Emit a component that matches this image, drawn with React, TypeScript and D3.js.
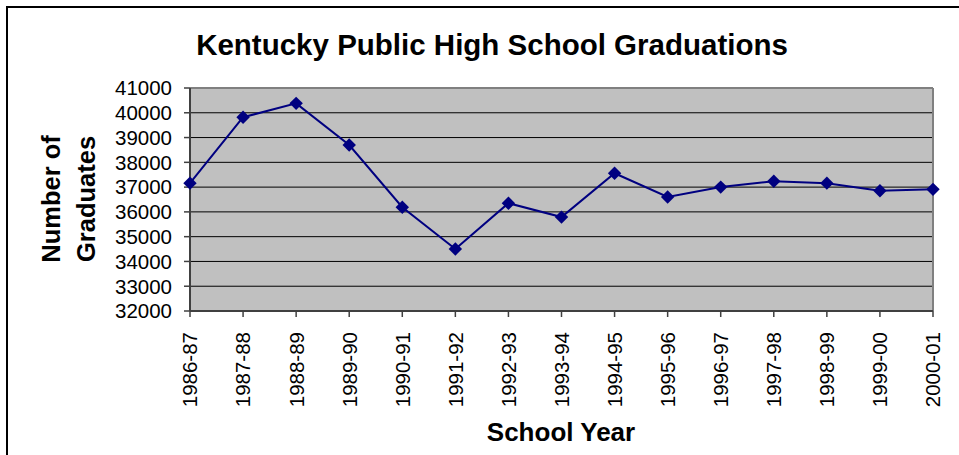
import React from "react";
import * as d3 from "d3";

const categories = ["1986-87","1987-88","1988-89","1989-90","1990-91","1991-92","1992-93","1993-94","1994-95","1995-96","1996-97","1997-98","1998-99","1999-00","2000-01"];
const graduates = [37160, 39820, 40380, 38700, 36190, 34500, 36350, 35790, 37560, 36600, 37000, 37240, 37160, 36850, 36910];
const yTicks = [32000, 33000, 34000, 35000, 36000, 37000, 38000, 39000, 40000, 41000];
const title = "Kentucky Public High School Graduations";
const xTitle = "School Year";
const yTitleLines = ["Number of", "Graduates"];

const W = 959, H = 455;
const PL = 190, PR = 933, PT = 88, PB = 311;
const FONT = "Liberation Sans, Arial, sans-serif";

export default function App() {
  const x = d3.scalePoint<string>().domain(categories).range([PL, PR]);
  const y = d3.scaleLinear().domain([32000, 41000]).range([PB, PT]);
  const line = d3.line<number>().x((_, i) => x(categories[i])!).y((d) => y(d));
  const diamond = d3.symbol().type(d3.symbolDiamond2).size(115)();

  return (
    <svg width={W} height={H} style={{ position: "absolute", left: 0, top: 0, background: "#fff" }} fontFamily={FONT}>
      <rect x={7} y={7} width={W} height={H} fill="#fff" stroke="#000" strokeWidth={2} />
      <text x={492} y={55} textAnchor="middle" fontSize={29.5} fontWeight="bold" fill="#000">{title}</text>
      <rect x={PL} y={PT} width={PR - PL} height={PB - PT} fill="#c0c0c0" />
      {yTicks.map((t) => (
        <line key={"g" + t} x1={PL} x2={PR} y1={y(t)} y2={y(t)} stroke="#000" strokeWidth={1} />
      ))}
      <line x1={PL} x2={PR} y1={PT} y2={PT} stroke="#808080" strokeWidth={2} />
      <line x1={PR} x2={PR} y1={PT} y2={PB} stroke="#808080" strokeWidth={2} />
      <line x1={PL} x2={PL} y1={PT} y2={PB} stroke="#404040" strokeWidth={2} />
      <line x1={PL} x2={PR} y1={PB} y2={PB} stroke="#404040" strokeWidth={2} />
      {yTicks.map((t) => (
        <g key={"y" + t}>
          <line x1={PL - 6} x2={PL} y1={y(t)} y2={y(t)} stroke="#404040" strokeWidth={1.5} />
          <text x={172} y={y(t)} dy="0.36em" textAnchor="end" fontSize={20.5} fill="#000">{t}</text>
        </g>
      ))}
      {categories.map((c) => (
        <g key={c}>
          <line x1={x(c)} x2={x(c)} y1={PB} y2={PB + 6} stroke="#404040" strokeWidth={1.5} />
          <text transform={`translate(${x(c)},${332}) rotate(-90)`} dy="0.36em" textAnchor="end" fontSize={20.5} fill="#000">{c}</text>
        </g>
      ))}
      <path d={line(graduates) || ""} fill="none" stroke="#000080" strokeWidth={2} />
      {graduates.map((v, i) => (
        <path key={i} d={diamond || ""} transform={`translate(${x(categories[i])},${y(v)})`} fill="#000080" />
      ))}
      <text x={561} y={441} textAnchor="middle" fontSize={26} fontWeight="bold" fill="#000">{xTitle}</text>
      {yTitleLines.map((l, i) => (
        <text key={l} transform={`translate(${51 + i * 35},${199}) rotate(-90)`} dy="0.36em" textAnchor="middle" fontSize={25.5} fontWeight="bold" fill="#000">{l}</text>
      ))}
    </svg>
  );
}
